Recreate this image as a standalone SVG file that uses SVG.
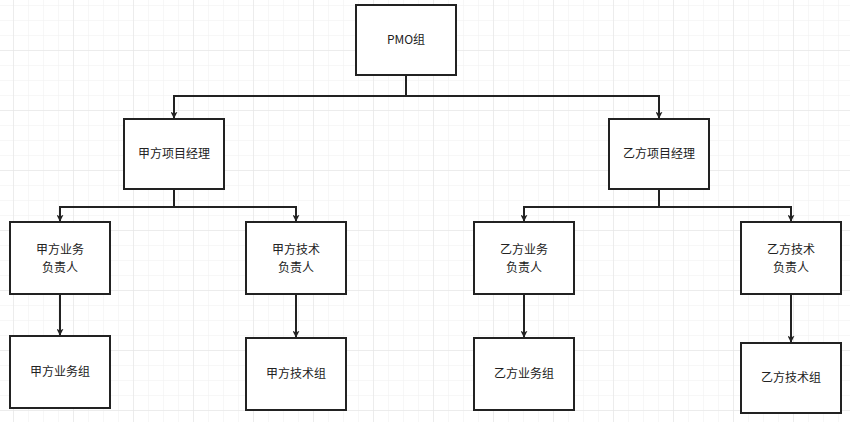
<svg xmlns="http://www.w3.org/2000/svg" width="850" height="422" viewBox="0 0 850 422">
<defs>
<pattern id="minor" x="13" y="5" width="15" height="15" patternUnits="userSpaceOnUse"><path d="M0 0V15M0 0H15" stroke="#efefef" stroke-width="1" fill="none"/></pattern>
<pattern id="major" x="13" y="50" width="60" height="60" patternUnits="userSpaceOnUse"><path d="M0 0V60M0 0H60" stroke="#e2e2e2" stroke-width="1" fill="none"/></pattern>
<marker id="a" viewBox="0 0 10 10" refX="9" refY="5" markerWidth="7" markerHeight="7" orient="auto" markerUnits="userSpaceOnUse"><path d="M0 0L10 5L0 10L2.5 5Z" fill="#222"/></marker>
</defs>
<style>
.n rect{fill:#fff;stroke:#222;stroke-width:2}
.n text{font-family:"Noto Sans CJK SC","Liberation Sans",sans-serif;font-size:12px;fill:#222;text-anchor:middle}
#c path{fill:none;stroke:#222;stroke-width:2;marker-end:url(#a)}
</style>
<rect width="850" height="422" fill="#fff"/>
<rect width="850" height="422" fill="url(#minor)"/>
<rect width="850" height="422" fill="url(#major)"/>
<g id="c">
<path d="M406 75V96H174V118"/>
<path d="M406 96H659V118"/>
<path d="M174 189V207H60V221"/>
<path d="M174 207H296V221"/>
<path d="M659 189V207H524V221"/>
<path d="M659 207H791V221"/>
<path d="M60 294V335"/>
<path d="M296 294V337"/>
<path d="M524 294V337"/>
<path d="M791 294V342"/>
</g>
<g id="pmo" class="n"><rect x="356" y="5" width="100" height="70"/><text x="406" y="44">PMO组</text></g>
<g id="jm" class="n"><rect x="124" y="119" width="100" height="70"/><text x="174" y="158">甲方项目经理</text></g>
<g id="ym" class="n"><rect x="609" y="119" width="100" height="70"/><text x="659" y="158">乙方项目经理</text></g>
<g id="jb" class="n"><rect x="10" y="222" width="100" height="72"/><text x="60" y="254">甲方业务</text><text x="60" y="272">负责人</text></g>
<g id="jt" class="n"><rect x="246" y="222" width="100" height="72"/><text x="296" y="254">甲方技术</text><text x="296" y="272">负责人</text></g>
<g id="yb" class="n"><rect x="474" y="222" width="100" height="72"/><text x="524" y="254">乙方业务</text><text x="524" y="272">负责人</text></g>
<g id="yt" class="n"><rect x="741" y="222" width="100" height="72"/><text x="791" y="254">乙方技术</text><text x="791" y="272">负责人</text></g>
<g id="jbg" class="n"><rect x="10" y="336" width="100" height="72"/><text x="60" y="376">甲方业务组</text></g>
<g id="jtg" class="n"><rect x="246" y="338" width="100" height="72"/><text x="296" y="378">甲方技术组</text></g>
<g id="ybg" class="n"><rect x="474" y="338" width="100" height="72"/><text x="524" y="378">乙方业务组</text></g>
<g id="ytg" class="n"><rect x="741" y="343" width="100" height="70"/><text x="791" y="382">乙方技术组</text></g>
</svg>
